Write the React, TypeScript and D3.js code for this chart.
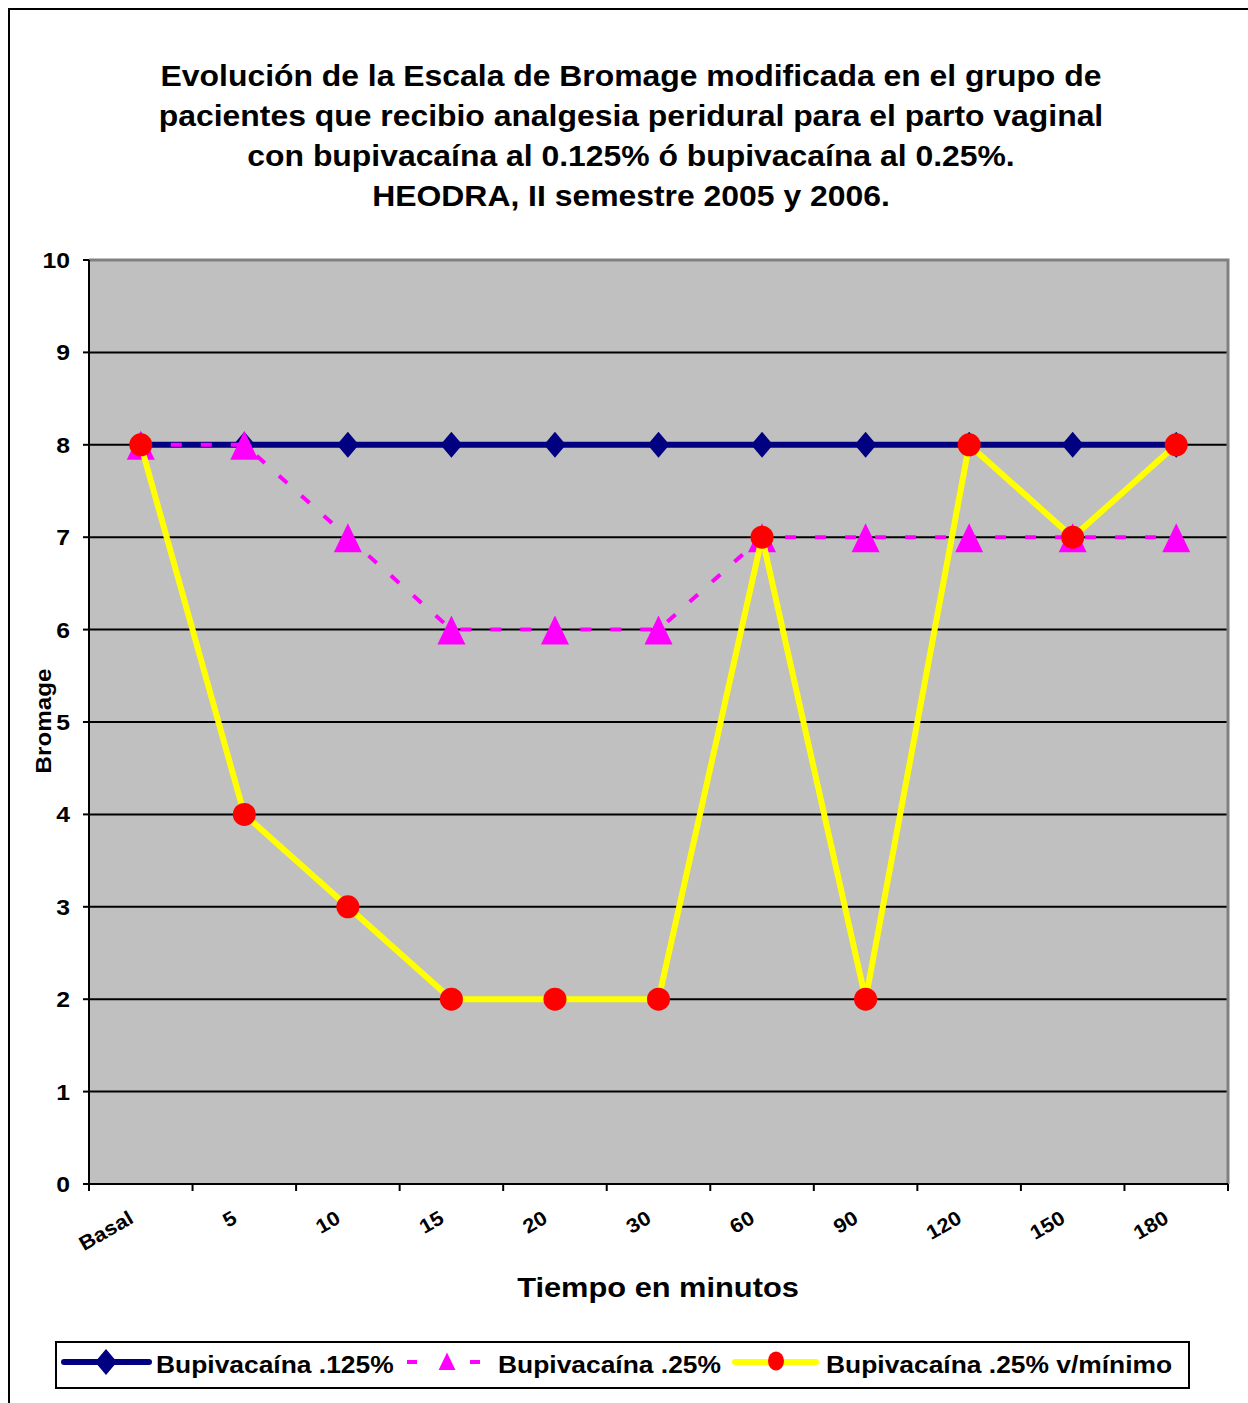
import React from "react";
import * as d3 from "d3";

const categories = ["Basal", "5", "10", "15", "20", "30", "60", "90", "120", "150", "180"];
const bupi0125 = [8, 8, 8, 8, 8, 8, 8, 8, 8, 8, 8];
const bupi025 = [8, 8, 7, 6, 6, 6, 7, 7, 7, 7, 7];
const bupi025Min = [8, 4, 3, 2, 2, 2, 7, 2, 8, 7, 8];
const yTicks = [0, 1, 2, 3, 4, 5, 6, 7, 8, 9, 10];
const titleLines = [
  "Evolución de la Escala de Bromage modificada en el grupo de",
  "pacientes que recibio analgesia peridural para el parto vaginal",
  "con bupivacaína al 0.125% ó bupivacaína al 0.25%.",
  "HEODRA, II semestre 2005 y 2006.",
];

const FONT = "'Liberation Sans', Arial, Helvetica, sans-serif";
const W = 1248;
const H = 1403;
const SX = 1.1; // horizontal widening of all lettering
const plot = { left: 89, right: 1228, top: 260, bottom: 1184 };

const x = d3.scaleBand<string>().domain(categories).range([plot.left, plot.right]);
const y = d3.scaleLinear().domain([0, 10]).range([plot.bottom, plot.top]);
const cx = (c: string) => (x(c) ?? 0) + x.bandwidth() / 2;
const line = d3
  .line<number>()
  .x((_, i) => cx(categories[i]))
  .y((v) => y(v));

const diamond = (px: number, py: number, s = 1) =>
  `M${px},${py - 13 * s}L${px + 11 * s},${py}L${px},${py + 13 * s}L${px - 11 * s},${py}Z`;
const triangle = (px: number, py: number, s = 1) =>
  `M${px},${py - 14 * s}L${px + 14 * s},${py + 15 * s}L${px - 14 * s},${py + 15 * s}Z`;

type LabelProps = {
  x: number;
  y: number;
  size: number;
  anchor?: "start" | "middle" | "end";
  rotate?: number;
  children: React.ReactNode;
};

function Label({ x: px, y: py, size, anchor = "start", rotate = 0, children }: LabelProps) {
  return (
    <text
      transform={`translate(${px},${py}) rotate(${rotate}) scale(${SX},1)`}
      textAnchor={anchor}
      fontSize={size}
      fontWeight="bold"
      fill="#000"
    >
      {children}
    </text>
  );
}

export default function App() {
  const navy = "#000080";
  const magenta = "#FF00FF";
  const yellow = "#FFFF00";
  const red = "#FF0000";
  return (
    <svg width={W} height={H} style={{ position: "absolute", left: 0, top: 0 }} fontFamily={FONT}>
      <rect x={0} y={0} width={W} height={H} fill="#fff" />
      <rect x={9} y={9} width={W + 10} height={H + 10} fill="none" stroke="#000" strokeWidth={2} />

      {titleLines.map((t, i) => (
        <Label key={i} x={631} y={86 + i * 40} size={29} anchor="middle">
          {t}
        </Label>
      ))}

      <rect
        x={plot.left}
        y={plot.top}
        width={plot.right - plot.left}
        height={plot.bottom - plot.top}
        fill="#C0C0C0"
      />
      {yTicks
        .filter((v) => v > 0 && v < 10)
        .map((v) => (
          <line key={v} x1={plot.left} x2={plot.right} y1={y(v)} y2={y(v)} stroke="#000" strokeWidth={2} />
        ))}
      <path
        d={`M${plot.left},${plot.top}H${plot.right}V${plot.bottom}`}
        fill="none"
        stroke="#808080"
        strokeWidth={3}
      />
      <line x1={plot.left} x2={plot.left} y1={plot.top} y2={plot.bottom} stroke="#000" strokeWidth={2} />
      <line x1={plot.left} x2={plot.right} y1={plot.bottom} y2={plot.bottom} stroke="#000" strokeWidth={2} />

      {yTicks.map((v) => (
        <g key={v}>
          <line x1={plot.left - 6} x2={plot.left} y1={y(v)} y2={y(v)} stroke="#000" strokeWidth={2} />
          <Label x={70} y={y(v) + 8} size={22.5} anchor="end">
            {v}
          </Label>
        </g>
      ))}
      {[...categories.map((c) => x(c) ?? 0), plot.right].map((px, i) => (
        <line key={i} x1={px} x2={px} y1={plot.bottom} y2={plot.bottom + 7} stroke="#000" strokeWidth={2} />
      ))}
      {categories.map((c) => (
        <Label key={c} x={cx(c) - 6} y={plot.bottom + 38} size={20} anchor="end" rotate={-30}>
          {c}
        </Label>
      ))}

      <Label x={51} y={721} size={22} anchor="middle" rotate={-90}>
        Bromage
      </Label>
      <Label x={658} y={1297} size={28} anchor="middle">
        Tiempo en minutos
      </Label>

      {/* Bupivacaína .125% */}
      <path d={line(bupi0125) ?? ""} fill="none" stroke={navy} strokeWidth={6} />
      {bupi0125.map((v, i) => (
        <path key={i} d={diamond(cx(categories[i]), y(v))} fill={navy} />
      ))}

      {/* Bupivacaína .25% */}
      <path d={line(bupi025) ?? ""} fill="none" stroke={magenta} strokeWidth={4} strokeDasharray="11 19" />
      {bupi025.map((v, i) => (
        <path key={i} d={triangle(cx(categories[i]), y(v))} fill={magenta} />
      ))}

      {/* Bupivacaína .25% v/mínimo */}
      <path d={line(bupi025Min) ?? ""} fill="none" stroke={yellow} strokeWidth={6} />
      {bupi025Min.map((v, i) => (
        <circle key={i} cx={cx(categories[i])} cy={y(v)} r={11.5} fill={red} />
      ))}

      {/* Legend */}
      <rect x={56} y={1342} width={1133} height={46} fill="#fff" stroke="#000" strokeWidth={2} />
      <line x1={64} x2={149} y1={1362} y2={1362} stroke={navy} strokeWidth={6} strokeLinecap="round" />
      <path d={diamond(106, 1362)} fill={navy} />
      <Label x={156} y={1373} size={24}>Bupivacaína .125%</Label>

      <line x1={407} x2={417} y1={1362} y2={1362} stroke={magenta} strokeWidth={4} />
      <line x1={470} x2={480} y1={1362} y2={1362} stroke={magenta} strokeWidth={4} />
      <path d={triangle(447, 1361, 0.6)} fill={magenta} />
      <Label x={498} y={1373} size={24}>Bupivacaína .25%</Label>

      <line x1={735} x2={816} y1={1362} y2={1362} stroke={yellow} strokeWidth={6} strokeLinecap="round" />
      <ellipse cx={776} cy={1361} rx={8} ry={9.5} fill={red} />
      <Label x={826} y={1373} size={24}>Bupivacaína .25% v/mínimo</Label>
    </svg>
  );
}
